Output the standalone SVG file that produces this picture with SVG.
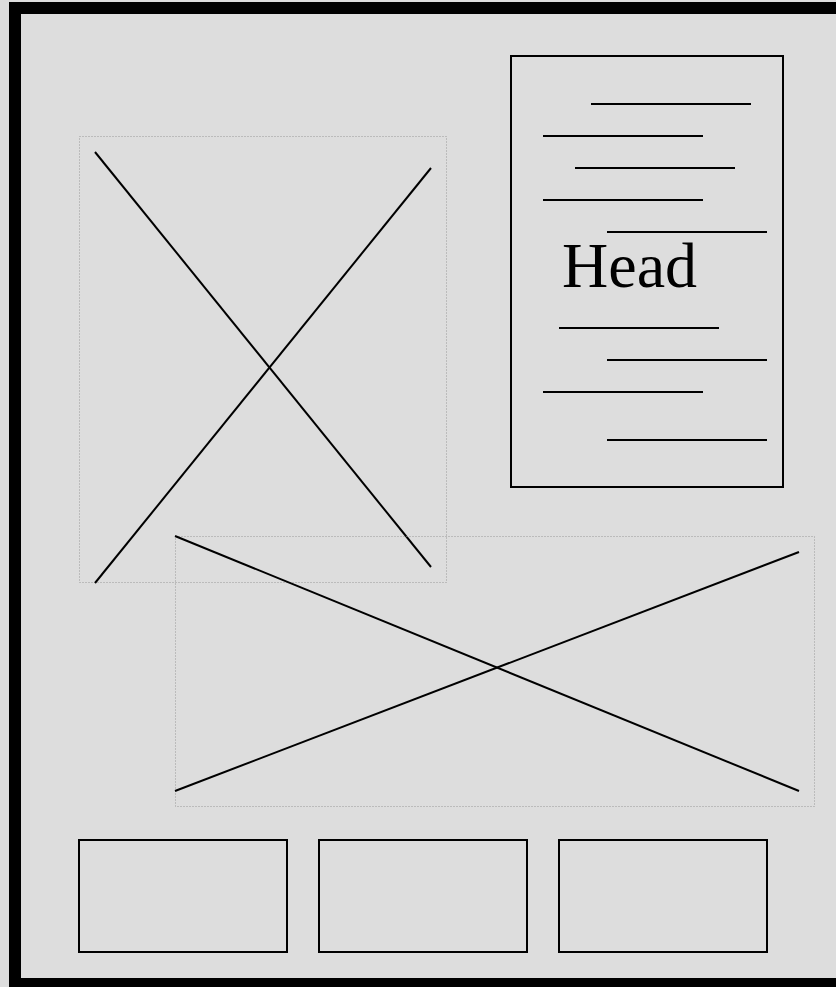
<svg xmlns="http://www.w3.org/2000/svg" width="836" height="987" viewBox="0 0 836 987">
<style>
.dot{fill:none;stroke:#999999;stroke-width:1;stroke-dasharray:1 2}
.ln{stroke:#000;stroke-width:2;fill:none}
.box{fill:none;stroke:#000;stroke-width:2}
</style>
<rect x="0" y="0" width="836" height="987" fill="#dddddd"/>
<rect x="15" y="8" width="900" height="976" fill="none" stroke="#000" stroke-width="12"/>
<g id="image1">
<rect class="dot" x="79.5" y="136.5" width="367" height="446"/>
<line class="ln" x1="95" y1="152" x2="431" y2="567"/>
<line class="ln" x1="431" y1="168" x2="95" y2="583"/>
</g>
<g id="document">
<rect class="box" x="511" y="56" width="272" height="431"/>
<line class="ln" x1="591" y1="104" x2="751" y2="104"/>
<line class="ln" x1="543" y1="136" x2="703" y2="136"/>
<line class="ln" x1="575" y1="168" x2="735" y2="168"/>
<line class="ln" x1="543" y1="200" x2="703" y2="200"/>
<line class="ln" x1="607" y1="232" x2="767" y2="232"/>
<text x="562" y="287" font-family="Liberation Serif, serif" font-size="64" fill="#000">Head</text>
<line class="ln" x1="559" y1="328" x2="719" y2="328"/>
<line class="ln" x1="607" y1="360" x2="767" y2="360"/>
<line class="ln" x1="543" y1="392" x2="703" y2="392"/>
<line class="ln" x1="607" y1="440" x2="767" y2="440"/>
</g>
<g id="image2">
<rect class="dot" x="175.5" y="536.5" width="639" height="270"/>
<line class="ln" x1="175" y1="536" x2="799" y2="791"/>
<line class="ln" x1="175" y1="791" x2="799" y2="552"/>
</g>
<g id="box1"><rect class="box" x="79" y="840" width="208" height="112"/></g>
<g id="box2"><rect class="box" x="319" y="840" width="208" height="112"/></g>
<g id="box3"><rect class="box" x="559" y="840" width="208" height="112"/></g>
<g id="connectors"></g>
</svg>
